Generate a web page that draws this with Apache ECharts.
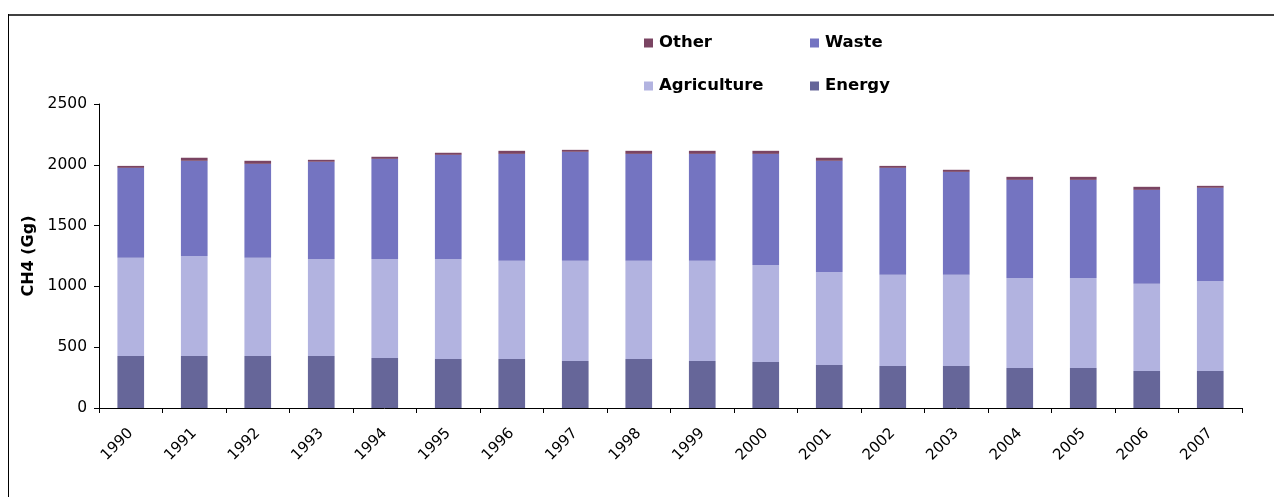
<!DOCTYPE html>
<html>
<head>
<meta charset="utf-8">
<script src="https://cdn.jsdelivr.net/npm/echarts@6/dist/echarts.min.js"></script>
<style>
  html, body { margin: 0; padding: 0; background: #fff; }
  #chart { width: 1274px; height: 497px; }
</style>
</head>
<body>
<div id="chart"></div>
<script>
var echarts = window.echarts;

var years = ['1990', '1991', '1992', '1993', '1994', '1995', '1996', '1997', '1998',
  '1999', '2000', '2001', '2002', '2003', '2004', '2005', '2006', '2007'];
var energy = [428, 428, 428, 428, 411, 403, 403, 387, 403, 387, 379, 354, 346, 346, 329, 329, 305, 305];
var agriculture = [807, 823, 807, 798, 815, 823, 807, 823, 807, 823, 798, 765, 749, 749, 741, 741, 716, 740];
var waste = [740, 782, 773, 799, 823, 856, 880, 897, 880, 880, 913, 914, 880, 847, 806, 806, 773, 766];
var other = [16, 25, 25, 16, 17, 17, 25, 16, 25, 25, 25, 25, 16, 17, 25, 25, 25, 16];
var yTicks = [0, 500, 1000, 1500, 2000, 2500];

var color = {
  energy: '#666699',
  agriculture: '#b2b3e0',
  waste: '#7474c1',
  other: '#7a4462'
};
var font = 'Verdana, "DejaVu Sans", sans-serif';

function bar(name, data, c) {
  return {
    name: name,
    type: 'bar',
    stack: 'total',
    barWidth: '42%',
    itemStyle: { color: c },
    emphasis: { disabled: true },
    data: data
  };
}

function legend(left, names) {
  return {
    left: left,
    top: 29,
    orient: 'vertical',
    itemGap: 25,
    itemWidth: 9,
    itemHeight: 9,
    icon: 'rect',
    selectedMode: false,
    textStyle: { fontFamily: font, fontWeight: 'bold', fontSize: 16.5, lineHeight: 18, color: '#000', padding: [0, 0, 0, 1] },
    data: names
  };
}

var chart = echarts.init(document.getElementById('chart'));
chart.setOption({
  animation: false,
  backgroundColor: '#fff',
  legend: [legend(639, ['Other', 'Agriculture']), legend(805, ['Waste', 'Energy'])],
  grid: { left: 99, right: 32, top: 104, bottom: 89, containLabel: false },
  xAxis: {
    type: 'category',
    data: years,
    axisLine: { lineStyle: { color: '#000', width: 1 } },
    axisTick: { show: true, length: 5, lineStyle: { color: '#000' } },
    axisLabel: { rotate: 45, fontFamily: font, fontSize: 15, color: '#000', margin: 23 },
    splitLine: { show: false }
  },
  yAxis: {
    type: 'value',
    min: yTicks[0],
    max: yTicks[yTicks.length - 1],
    interval: 500,
    name: 'CH4 (Gg)',
    nameLocation: 'middle',
    nameGap: 59,
    nameTextStyle: { fontFamily: font, fontWeight: 'bold', fontSize: 16, color: '#000' },
    axisLine: { show: true, lineStyle: { color: '#000', width: 1 } },
    axisTick: { show: true, length: 5, lineStyle: { color: '#000' } },
    axisLabel: { fontFamily: font, fontSize: 15.5, color: '#000', margin: 12, formatter: function(v) { return String(v); } },
    splitLine: { show: false }
  },
  series: [
    bar('Energy', energy, color.energy),
    bar('Agriculture', agriculture, color.agriculture),
    bar('Waste', waste, color.waste),
    bar('Other', other, color.other)
  ],
  graphic: [
    { type: 'line', shape: { x1: 8, y1: 15, x2: 1274, y2: 15 }, style: { stroke: '#404040', lineWidth: 2 } },
    { type: 'line', shape: { x1: 8.5, y1: 14, x2: 8.5, y2: 497 }, style: { stroke: '#000', lineWidth: 1 } }
  ]
});
</script>
</body>
</html>
